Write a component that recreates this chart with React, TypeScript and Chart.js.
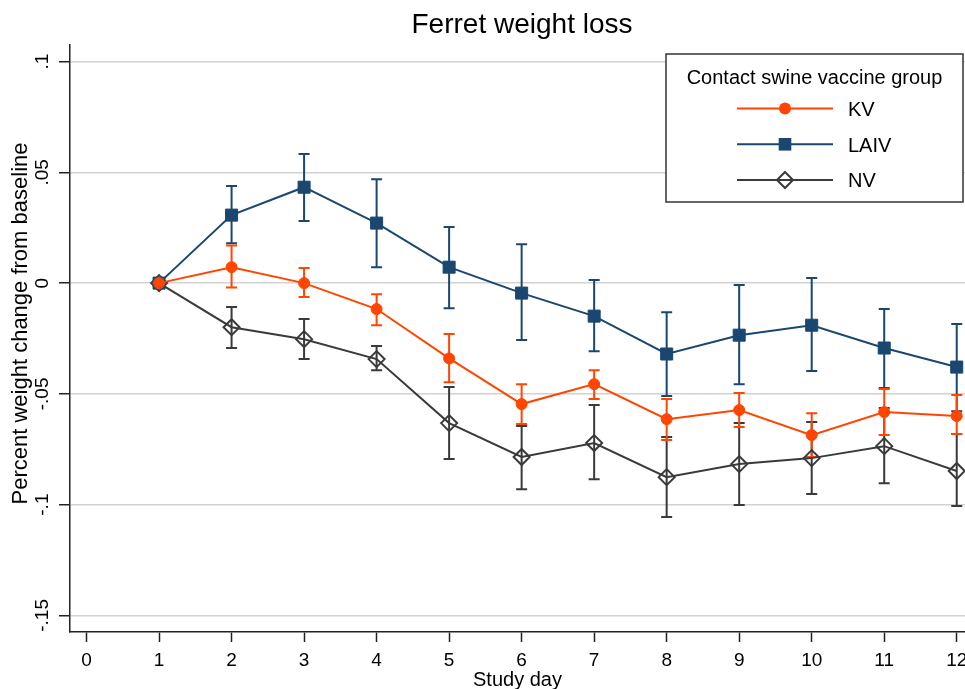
import React, { useEffect, useRef } from 'react';
import { Chart, registerables } from 'chart.js';

Chart.register(...registerables);

// ---- data ----
const days = [1, 2, 3, 4, 5, 6, 7, 8, 9, 10, 11, 12];

const kvMean = [0, 0.0072, 0.0, -0.0117, -0.034, -0.0546, -0.0456, -0.0614, -0.0573, -0.0686, -0.0582, -0.06];
const kvHigh = [0, 0.017, 0.0068, -0.005, -0.023, -0.0456, -0.0393, -0.0523, -0.0496, -0.0587, -0.0478, -0.0505];
const kvLow = [0, -0.002, -0.0063, -0.019, -0.0447, -0.0636, -0.0523, -0.0708, -0.065, -0.0785, -0.0686, -0.0681];

const laivMean = [0, 0.0307, 0.0433, 0.0271, 0.0072, -0.0045, -0.0149, -0.032, -0.0235, -0.019, -0.0293, -0.0379];
const laivHigh = [0, 0.0438, 0.0583, 0.0469, 0.0253, 0.0176, 0.0014, -0.0131, -0.0009, 0.0023, -0.0117, -0.0185];
const laivLow = [0, 0.018, 0.028, 0.0072, -0.0113, -0.0257, -0.0307, -0.051, -0.0456, -0.0397, -0.0474, -0.0578];

const nvMean = [0, -0.0199, -0.0253, -0.0343, -0.0632, -0.0785, -0.0722, -0.0876, -0.0817, -0.079, -0.0736, -0.0848];
const nvHigh = [0, -0.0108, -0.0162, -0.0284, -0.0469, -0.0645, -0.055, -0.0695, -0.0632, -0.0627, -0.0564, -0.0681];
const nvLow = [0, -0.0293, -0.0343, -0.0393, -0.0794, -0.093, -0.0885, -0.1056, -0.1002, -0.0952, -0.0903, -0.1006];

const seriesNames = ['KV', 'LAIV', 'NV'];
const xTicks = [0, 1, 2, 3, 4, 5, 6, 7, 8, 9, 10, 11, 12];
const yTicks = [-0.15, -0.1, -0.05, 0, 0.05, 0.1];
const yTickLabels = ['-.15', '-.1', '-.05', '0', '.05', '.1'];

const titleText = 'Ferret weight loss';
const xTitle = 'Study day';
const yTitle = 'Percent weight change from baseline';
const legendTitle = 'Contact swine vaccine group';

// ---- styles ----
const FONT = "'Liberation Sans', Arial, Helvetica, sans-serif";
const KV_COLOR = '#ff4500';
const LAIV_COLOR = '#1a476f';
const NV_COLOR = '#3a3a3a';
const AXIS_COLOR = '#222222';
const GRID_COLOR = '#d2d2d2';

const X_MIN = -0.228;
const X_MAX = 12.114;
const Y_MIN = -0.1575;
const Y_MAX = 0.1075;

function drawMarker(ctx: CanvasRenderingContext2D, kind: string, x: number, y: number, color: string) {
  ctx.save();
  ctx.beginPath();
  if (kind === 'circle') {
    ctx.arc(x, y, 6, 0, Math.PI * 2);
    ctx.fillStyle = color;
    ctx.fill();
  } else if (kind === 'rect') {
    ctx.rect(x - 6.3, y - 6.3, 12.6, 12.6);
    ctx.fillStyle = color;
    ctx.fill();
  } else {
    ctx.moveTo(x, y - 8);
    ctx.lineTo(x + 8, y);
    ctx.lineTo(x, y + 8);
    ctx.lineTo(x - 8, y);
    ctx.closePath();
    ctx.strokeStyle = color;
    ctx.lineWidth = 2;
    ctx.stroke();
  }
  ctx.restore();
}

const errorBars = [
  { low: kvLow, high: kvHigh, color: KV_COLOR },
  { low: laivLow, high: laivHigh, color: LAIV_COLOR },
  { low: nvLow, high: nvHigh, color: NV_COLOR },
];

const errorBarPlugin = {
  id: 'errorBars',
  beforeDatasetsDraw(chart: any) {
    const ctx = chart.ctx as CanvasRenderingContext2D;
    const xs = chart.scales.x;
    const ys = chart.scales.y;
    ctx.save();
    ctx.lineWidth = 2;
    for (let s = errorBars.length - 1; s >= 0; s--) {
      const eb = errorBars[s];
      ctx.strokeStyle = eb.color;
      days.forEach((d, i) => {
        if (eb.low[i] === eb.high[i]) return;
        const px = xs.getPixelForValue(d);
        const pl = ys.getPixelForValue(eb.low[i]);
        const ph = ys.getPixelForValue(eb.high[i]);
        ctx.beginPath();
        ctx.moveTo(px, pl);
        ctx.lineTo(px, ph);
        ctx.moveTo(px - 5.5, pl);
        ctx.lineTo(px + 5.5, pl);
        ctx.moveTo(px - 5.5, ph);
        ctx.lineTo(px + 5.5, ph);
        ctx.stroke();
      });
    }
    ctx.restore();
  },
};

const titleLegendPlugin = {
  id: 'titleLegend',
  afterDraw(chart: any) {
    const ctx = chart.ctx as CanvasRenderingContext2D;
    ctx.save();
    // main title
    ctx.fillStyle = '#000';
    ctx.font = `28px ${FONT}`;
    ctx.textAlign = 'center';
    ctx.textBaseline = 'alphabetic';
    ctx.fillText(titleText, 522, 33);

    // y axis title
    ctx.save();
    ctx.translate(21, 323.5);
    ctx.rotate(-Math.PI / 2);
    ctx.font = `22px ${FONT}`;
    ctx.textAlign = 'center';
    ctx.textBaseline = 'middle';
    ctx.fillText(yTitle, 0, 0);
    ctx.restore();

    // legend box
    const bx = 666, by = 54, bw = 297, bh = 148;
    ctx.fillStyle = '#ffffff';
    ctx.fillRect(bx, by, bw, bh);
    ctx.strokeStyle = '#333333';
    ctx.lineWidth = 1.5;
    ctx.strokeRect(bx, by, bw, bh);

    ctx.fillStyle = '#000';
    ctx.font = `20px ${FONT}`;
    ctx.textAlign = 'center';
    ctx.fillText(legendTitle, bx + bw / 2, 83.5);

    const rows = [
      { name: seriesNames[0], color: KV_COLOR, kind: 'circle', y: 108.5 },
      { name: seriesNames[1], color: LAIV_COLOR, kind: 'rect', y: 144.3 },
      { name: seriesNames[2], color: NV_COLOR, kind: 'diamond', y: 180 },
    ];
    rows.forEach((r) => {
      ctx.strokeStyle = r.color;
      ctx.lineWidth = 2;
      ctx.beginPath();
      ctx.moveTo(737, r.y);
      ctx.lineTo(833, r.y);
      ctx.stroke();
      drawMarker(ctx, r.kind, 785, r.y, r.color);
      ctx.fillStyle = '#000';
      ctx.textAlign = 'left';
      ctx.font = `20px ${FONT}`;
      ctx.fillText(r.name, 848, r.y + 7.3);
    });
    ctx.restore();
  },
};

export default function App() {
  const canvasRef = useRef<HTMLCanvasElement | null>(null);

  useEffect(() => {
    if (!canvasRef.current) return;
    Chart.defaults.font.family = FONT;
    const toPts = (arr: number[]) => days.map((d, i) => ({ x: d, y: arr[i] }));

    const chart = new Chart(canvasRef.current, {
      type: 'line',
      data: {
        datasets: [
          {
            label: seriesNames[0],
            data: toPts(kvMean),
            borderColor: KV_COLOR,
            backgroundColor: KV_COLOR,
            borderWidth: 2,
            pointStyle: 'circle',
            pointRadius: 5.5,
            pointBorderWidth: 1,
            pointBackgroundColor: KV_COLOR,
            pointBorderColor: KV_COLOR,
            tension: 0,
            clip: false,
          },
          {
            label: seriesNames[1],
            data: toPts(laivMean),
            borderColor: LAIV_COLOR,
            backgroundColor: LAIV_COLOR,
            borderWidth: 2,
            pointStyle: 'rect',
            pointRadius: 8.5,
            pointBorderWidth: 1,
            pointBackgroundColor: LAIV_COLOR,
            pointBorderColor: LAIV_COLOR,
            tension: 0,
            clip: false,
          },
          {
            label: seriesNames[2],
            data: toPts(nvMean),
            borderColor: NV_COLOR,
            backgroundColor: 'rgba(0,0,0,0)',
            borderWidth: 2,
            pointStyle: 'rectRot',
            pointRadius: 8,
            pointBorderWidth: 2,
            pointBackgroundColor: 'rgba(0,0,0,0)',
            pointBorderColor: NV_COLOR,
            tension: 0,
            clip: false,
          },
        ],
      },
      options: {
        responsive: false,
        animation: false,
        layout: { autoPadding: false, padding: { top: 45, left: 0, right: 0, bottom: 0 } },
        plugins: {
          legend: { display: false },
          title: { display: false },
          tooltip: { enabled: false },
        },
        scales: {
          x: {
            type: 'linear',
            min: X_MIN,
            max: X_MAX,
            afterBuildTicks: (s: any) => {
              s.ticks = xTicks.map((v) => ({ value: v }));
            },
            afterFit: (s: any) => {
              s.height = 57;
              s.paddingLeft = 0;
              s.paddingRight = 0;
            },
            ticks: {
              autoSkip: false,
              maxRotation: 0,
              padding: 7,
              color: '#000',
              font: { size: 19 },
              callback: (v: any) => String(v),
            },
            grid: {
              drawOnChartArea: false,
              drawTicks: true,
              tickLength: 10,
              tickColor: AXIS_COLOR,
              tickWidth: 1.5,
            },
            border: { color: AXIS_COLOR, width: 1.5 },
            title: {
              display: true,
              text: xTitle,
              color: '#000',
              font: { size: 20, lineHeight: 0.9 },
              padding: 0,
            },
          },
          y: {
            type: 'linear',
            min: Y_MIN,
            max: Y_MAX,
            afterBuildTicks: (s: any) => {
              s.ticks = yTicks.map((v) => ({ value: v }));
            },
            afterFit: (s: any) => {
              s.width = 70;
              s.paddingTop = 0;
              s.paddingBottom = 0;
            },
            ticks: {
              minRotation: 90,
              maxRotation: 90,
              crossAlign: 'center',
              padding: 0,
              color: '#000',
              font: { size: 19 },
              callback: (_v: any, i: number) => yTickLabels[i],
            },
            grid: {
              color: GRID_COLOR,
              lineWidth: 1.5,
              drawTicks: true,
              tickLength: 11,
              tickColor: AXIS_COLOR,
              tickWidth: 1.5,
            },
            border: { color: AXIS_COLOR, width: 1.5 },
            title: { display: false },
          },
        },
      } as any,
      plugins: [errorBarPlugin, titleLegendPlugin],
    });
    return () => chart.destroy();
  }, []);

  return (
    <div style={{ position: 'absolute', left: 0, top: 0, width: 965, height: 689, background: '#fff' }}>
      <canvas ref={canvasRef} width={965} height={689} style={{ display: 'block' }} />
    </div>
  );
}
